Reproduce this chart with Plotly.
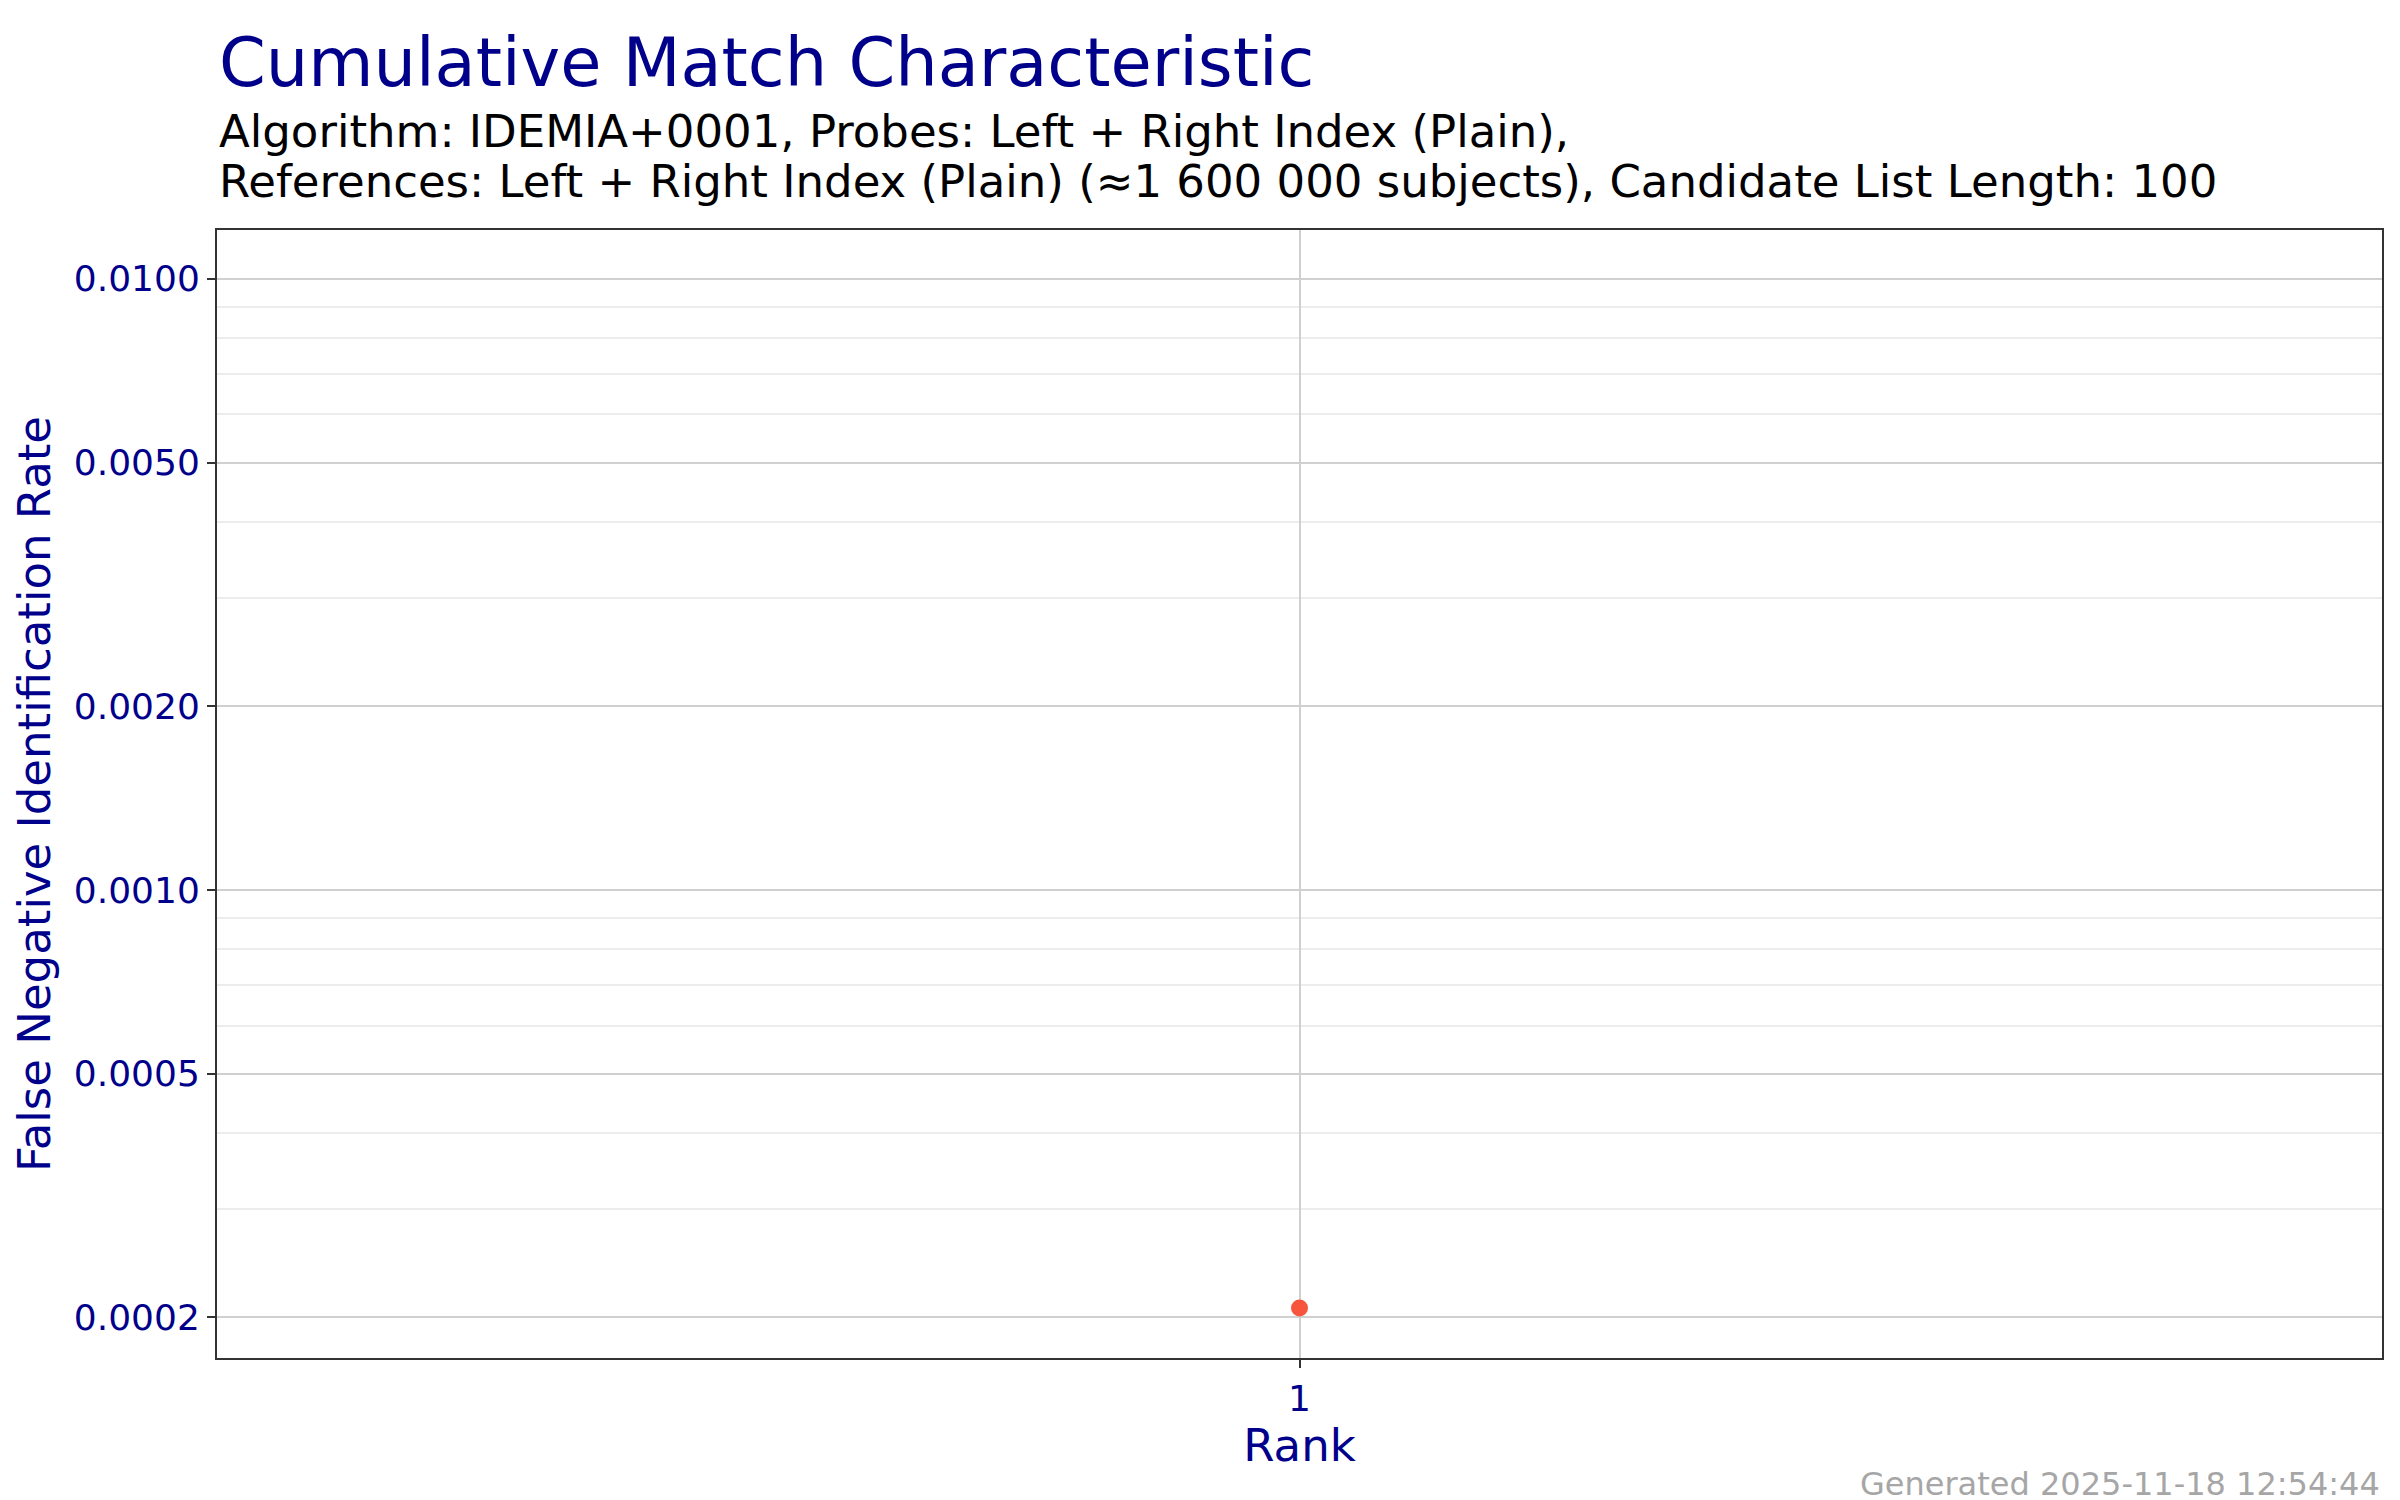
import plotly.graph_objects as go

ranks = [1]
fnir = [0.000207]
ytick_vals = [0.0002, 0.0005, 0.001, 0.002, 0.005, 0.01]
ytick_text = ["0.0002", "0.0005", "0.0010", "0.0020", "0.0050", "0.0100"]
minor_vals = [m * 10.0 ** e for e in (-4, -3, -2) for m in range(1, 10)]
title = "Cumulative Match Characteristic"
subtitle = ["Algorithm: IDEMIA+0001, Probes: Left + Right Index (Plain),",
            "References: Left + Right Index (Plain) (≈1 600 000 subjects), Candidate List Length: 100"]
footer = "Generated 2025-11-18 12:54:44"

FONT = "DejaVu Sans"
W, H = 2400, 1500
L, R, T, B = 209, 26, 222, 150
ph = H - T - B

def py(px):
    return 1 + (T - px) / ph

fig = go.Figure(go.Scatter(x=ranks, y=fnir, mode="markers",
                           marker=dict(color="#F8553E", size=17), showlegend=False))

fig.update_layout(
    width=W, height=H, paper_bgcolor="white", plot_bgcolor="white",
    margin=dict(l=L, r=R, t=T, b=B),
    font=dict(family=FONT),
    xaxis=dict(range=[0, 2], tickvals=ranks, ticktext=[str(r) for r in ranks],
               showgrid=True, gridcolor="#d0d0d0", gridwidth=2, zeroline=False,
               ticks="outside", ticklen=8, tickcolor="#333", tickwidth=2,
               tickfont=dict(size=36, color="#00008B", family=FONT),
               showline=True, linecolor="#333", linewidth=2, mirror=True,
               title=dict(text="Rank", font=dict(size=45, color="#00008B", family=FONT), standoff=6)),
    yaxis=dict(type="log", range=[-3.766, -1.92], tickvals=ytick_vals, ticktext=ytick_text,
               showgrid=True, gridcolor="#d0d0d0", gridwidth=2, zeroline=False,
               ticks="outside", ticklen=8, tickcolor="#333", tickwidth=2,
               tickfont=dict(size=36, color="#00008B", family=FONT),
               minor=dict(tickvals=minor_vals, showgrid=True, gridcolor="#ececec", gridwidth=2, ticks=""),
               showline=True, linecolor="#333", linewidth=2, mirror=True,
               title=dict(text="False Negative Identification Rate",
                          font=dict(size=45, color="#00008B", family=FONT), standoff=10)),
)

ann = [
    dict(text=title, x=0, y=py(55), font=dict(size=67, color="#00008B", family=FONT)),
    dict(text=subtitle[0], x=0, y=py(124), font=dict(size=45, color="black", family=FONT)),
    dict(text=subtitle[1], x=0, y=py(174), font=dict(size=45, color="black", family=FONT)),
]
for a in ann:
    fig.add_annotation(xref="paper", yref="paper", xanchor="left", yanchor="middle",
                       showarrow=False, **a)
fig.add_annotation(text=footer, xref="paper", yref="paper", x=1, y=py(1476),
                   xanchor="right", yanchor="middle", showarrow=False,
                   font=dict(size=32, color="#a6a6a6", family=FONT))

fig.write_html("out.html")
